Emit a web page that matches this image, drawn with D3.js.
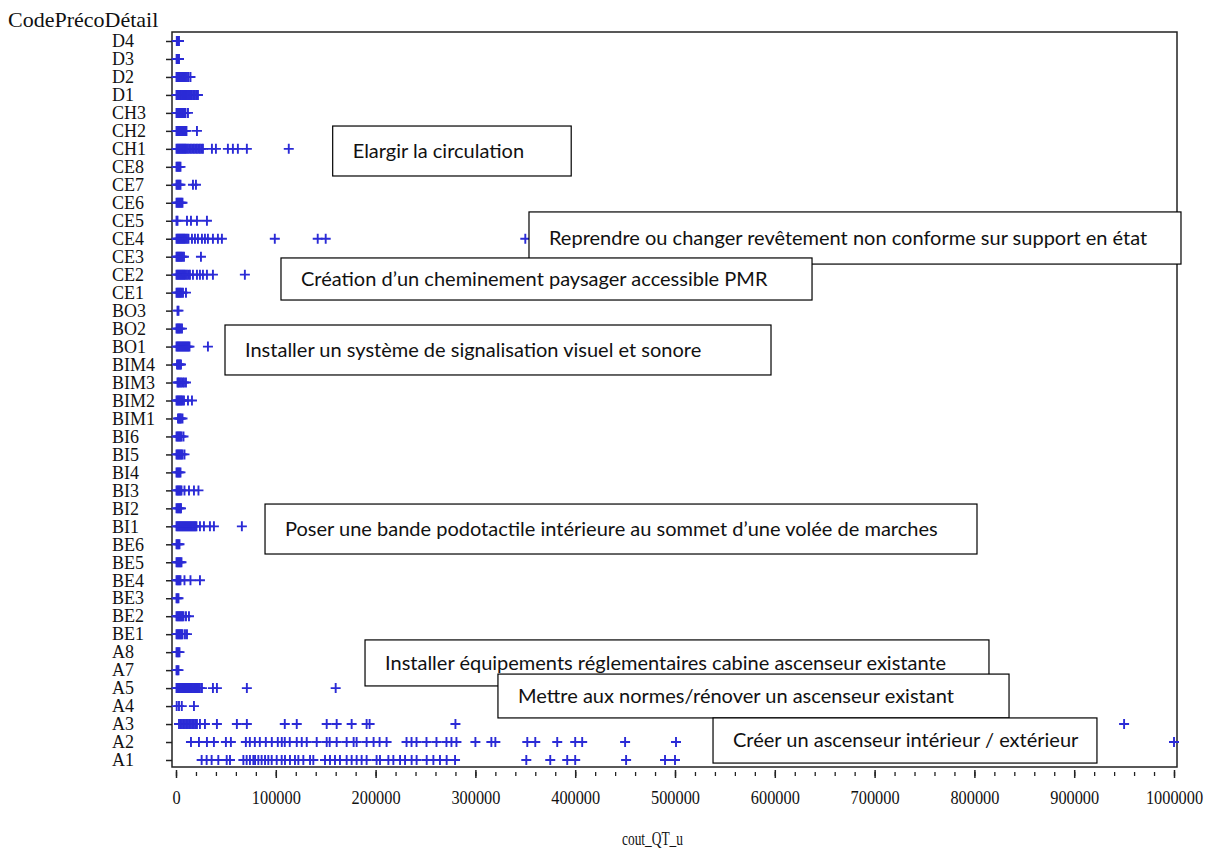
<!DOCTYPE html>
<html>
<head>
<meta charset="utf-8">
<script src="https://cdn.jsdelivr.net/npm/d3@7"></script>
<style>
  body { margin: 0; background: #fff; }
  svg { display: block; }
</style>
</head>
<body>
<div id="chart"></div>
<script>
"use strict";

// Codes shown on the vertical axis, top to bottom
const categories = [
  "D4", "D3", "D2", "D1", "CH3", "CH2", "CH1", "CE8", "CE7", "CE6", "CE5",
  "CE4", "CE3", "CE2", "CE1", "BO3", "BO2", "BO1", "BIM4", "BIM3", "BIM2",
  "BIM1", "BI6", "BI5", "BI4", "BI3", "BI2", "BI1", "BE6", "BE5", "BE4",
  "BE3", "BE2", "BE1", "A8", "A7", "A5", "A4", "A3", "A2", "A1"
];

// Unit costs (cout_QT_u), one list per code
const costD4 = [800, 1500, 2200, 3000];
const costD3 = [600, 1400, 2500, 3000];
const costD2 = [500, 1500, 2500, 3500, 4500, 5500, 6500, 7500, 8500, 9500, 11000, 12500, 14500];
const costD1 = [500, 1200, 2000, 2800, 3500, 4200, 5000, 5800, 6500, 7300, 8000, 9000, 10000,
  11000, 12000, 13000, 14000, 15000, 16000, 17500, 19000, 20500, 22000];
const costCH3 = [500, 1500, 2500, 3500, 4500, 5500, 6500, 7500, 8500, 9500, 12000];
const costCH2 = [500, 1500, 2500, 3500, 4500, 5500, 6500, 7500, 8500, 9500, 10500, 21000];
const costCH1 = [500, 1500, 2500, 3500, 4500, 5500, 6500, 7500, 8500, 9500, 10500, 12000, 13500,
  15000, 16500, 18000, 19500, 21000, 22500, 24000, 25500, 27000, 36000, 40000, 52000, 57000,
  62000, 71000, 113000];
const costCE8 = [500, 1500, 2500, 3500, 4500];
const costCE7 = [500, 1500, 2500, 3500, 4500, 17000, 20000];
const costCE6 = [500, 1500, 2500, 3500, 4500, 5500, 6500];
const costCE5 = [500, 1500, 11000, 15000, 21000, 31000];
const costCE4 = [500, 1500, 2500, 3500, 4500, 5500, 6500, 7500, 8500, 9500, 11000, 12500, 16000,
  19000, 22000, 26000, 29000, 32000, 37000, 42000, 46000, 99000, 142000, 150000, 350000];
const costCE3 = [500, 1500, 2500, 3500, 4500, 5500, 6500, 8000, 25000];
const costCE2 = [500, 1500, 2500, 3500, 4500, 5500, 6500, 7500, 8500, 9500, 11000, 12500, 14000,
  17000, 21000, 24000, 27000, 31000, 37000, 69000];
const costCE1 = [500, 1500, 2500, 3500, 4500, 5500, 7000, 10000];
const costBO3 = [1500, 2500];
const costBO2 = [500, 1500, 2500, 3500, 4500, 6000];
const costBO1 = [500, 1500, 2500, 3500, 4500, 5500, 6500, 7500, 8500, 9500, 10500, 11500, 12500,
  13500, 32000];
const costBIM4 = [1000, 2000, 3000, 4000, 5000];
const costBIM3 = [1500, 2500, 3500, 5000, 6500, 8000, 10000];
const costBIM2 = [500, 1500, 2500, 3500, 4500, 5500, 6500, 8000, 12000, 16000];
const costBIM1 = [2000, 3000, 4000, 5000, 6500];
const costBI6 = [500, 1500, 2500, 3500, 4500, 5500, 7500];
const costBI5 = [500, 1500, 2500, 3500, 4500, 5500, 6500, 8500];
const costBI4 = [500, 1500, 2500, 3500, 4500];
const costBI3 = [500, 1500, 2500, 3500, 4500, 5500, 8500, 13000, 18000, 22500];
const costBI2 = [500, 1500, 2500, 3500, 4500, 5000];
const costBI1 = [500, 1500, 2500, 3500, 4500, 5500, 6500, 7500, 8500, 9500, 10500, 11500, 12500,
  13500, 14500, 15500, 16500, 17500, 18500, 19500, 20500, 24000, 28000, 34000, 38000, 66000];
const costBE6 = [500, 1500, 2500, 3500];
const costBE5 = [500, 1500, 2500, 3500, 4500, 5500];
const costBE4 = [500, 1500, 2500, 3500, 4500, 8500, 14500, 24000];
const costBE3 = [500, 1500, 2500];
const costBE2 = [500, 1500, 2500, 3500, 4500, 5500, 6500, 7500, 10000, 13000];
const costBE1 = [500, 1500, 2500, 3500, 4500, 5500, 6500, 9000, 11000];
const costA8 = [500, 1500, 2500, 3500];
const costA7 = [500, 1500, 2500];
const costA5 = [500, 1500, 2500, 3500, 4500, 5500, 6500, 7500, 8500, 9500, 10500, 11500, 12500,
  13500, 14500, 15500, 16500, 17500, 18500, 19500, 20500, 21500, 22500, 24000, 26000, 37000,
  41000, 71000, 160000];
const costA4 = [700, 3000, 5800, 18000];
const costA3 = [3000, 4500, 6000, 7500, 9000, 10500, 12000, 13500, 15000, 16500, 18000, 19500,
  21000, 24000, 29000, 41000, 61000, 71000, 109000, 121000, 151000, 161000, 176000, 191000,
  194000, 280000, 950000];
const costA2 = [15000, 23000, 31000, 38000, 50000, 55000, 70000, 74000, 79000, 84000, 90000, 96000,
  102000, 106000, 109000, 114000, 121000, 126000, 131000, 141000, 151000, 154000, 161000, 171000,
  178000, 181000, 191000, 198000, 204000, 211000, 231000, 236000, 241000, 251000, 261000, 271000,
  276000, 281000, 300000, 316000, 320000, 352000, 360000, 382000, 400000, 407000, 450000, 501000,
  1000000];
const costA1 = [25700, 30700, 35700, 42400, 50800, 54100, 67500, 70800, 74100, 77500, 79200, 82500,
  85800, 89200, 92500, 95900, 100900, 105900, 109200, 114200, 119200, 122600, 127600, 134300,
  137600, 149300, 154300, 159300, 164300, 171000, 176000, 181000, 186000, 191000, 201000, 204400,
  212800, 217800, 224500, 229500, 236100, 241100, 251200, 257900, 264500, 271200, 279600, 351000,
  375000, 392000, 400000, 451000, 490000, 500000];

// Same order as the categories
const costLists = [
  costD4, costD3, costD2, costD1, costCH3, costCH2, costCH1, costCE8, costCE7, costCE6, costCE5,
  costCE4, costCE3, costCE2, costCE1, costBO3, costBO2, costBO1, costBIM4, costBIM3, costBIM2,
  costBIM1, costBI6, costBI5, costBI4, costBI3, costBI2, costBI1, costBE6, costBE5, costBE4,
  costBE3, costBE2, costBE1, costA8, costA7, costA5, costA4, costA3, costA2, costA1
];

// X axis tick values
const majorTicks = [0, 100000, 200000, 300000, 400000, 500000, 600000, 700000, 800000, 900000, 1000000];
const minorTicks = d3.range(0, 1000001, 20000);

// Text of the annotation boxes (drawn in this order, later ones on top)
const notes = [
  "Elargir la circulation",
  "Reprendre ou changer revêtement non conforme sur support en état",
  "Création d\u2019un cheminement paysager accessible PMR",
  "Installer un système de signalisation visuel et sonore",
  "Poser une bande podotactile intérieure au sommet d\u2019une volée de marches",
  "Installer équipements réglementaires cabine ascenseur existante",
  "Mettre aux normes/rénover un ascenseur existant",
  "Créer un ascenseur intérieur / extérieur"
];

// Flatten into points
const points = [];
categories.forEach((code, i) => {
  costLists[i].forEach(v => points.push({ code: code, cost: v }));
});

// Layout
const width = 1212;
const height = 852;
const frame = { left: 172, right: 1177, top: 32, bottom: 767 };
const markColor = "#2b2bd6";
const serif = "'Liberation Serif', 'Times New Roman', serif";

const svg = d3.select("#chart")
  .append("svg")
  .attr("width", width)
  .attr("height", height);

// Scales
const x = d3.scaleLinear().domain([0, 1000000]).range([176, 1174]);
const y = d3.scalePoint().domain(categories).range([41, 760]);

// Plot frame
svg.append("rect")
  .attr("x", frame.left)
  .attr("y", frame.top)
  .attr("width", frame.right - frame.left)
  .attr("height", frame.bottom - frame.top)
  .attr("fill", "none")
  .attr("stroke", "#222")
  .attr("stroke-width", 1.5);

// Y axis (labels left aligned, as in the original output)
const yAxis = svg.append("g")
  .attr("transform", `translate(${frame.left},0)`)
  .call(d3.axisLeft(y).tickSize(6).tickSizeOuter(0));
yAxis.select(".domain").remove();
yAxis.selectAll(".tick line").attr("stroke", "#222").attr("stroke-width", 1.5);
yAxis.selectAll(".tick text")
  .attr("x", 112 - frame.left)
  .attr("text-anchor", "start")
  .attr("fill", "#111")
  .style("font-family", serif)
  .style("font-size", "18px");

// Minor x ticks
const xMinor = svg.append("g")
  .attr("transform", `translate(0,${frame.bottom + 5})`)
  .call(d3.axisBottom(x).tickValues(minorTicks).tickSize(4).tickFormat(""));
xMinor.select(".domain").remove();
xMinor.selectAll(".tick line").attr("stroke", "#222").attr("stroke-width", 1.3);

// Major x ticks with labels
const xAxis = svg.append("g")
  .attr("transform", `translate(0,${frame.bottom + 3})`)
  .call(d3.axisBottom(x).tickValues(majorTicks).tickSize(8).tickPadding(13).tickFormat(d3.format("d")));
xAxis.select(".domain").remove();
xAxis.selectAll(".tick line").attr("stroke", "#222").attr("stroke-width", 1.5);
xAxis.selectAll(".tick text")
  .attr("fill", "#111")
  .attr("transform", "scale(0.86,1)")
  .style("font-family", serif)
  .style("font-size", "19px");

// Axis titles
svg.append("text")
  .attr("x", 8)
  .attr("y", 27)
  .attr("fill", "#111")
  .style("font-family", serif)
  .style("font-size", "22px")
  .text("CodePrécoDétail");

svg.append("text")
  .attr("x", 622)
  .attr("y", 845)
  .attr("textLength", 61)
  .attr("lengthAdjust", "spacingAndGlyphs")
  .attr("fill", "#111")
  .style("font-family", serif)
  .style("font-size", "19px")
  .text("cout_QT_u");

// Plus markers
svg.append("g")
  .selectAll("path")
  .data(points)
  .join("path")
  .attr("transform", d => `translate(${x(d.cost)},${y(d.code)})`)
  .attr("d", "M-5,0H5M0,-5V5")
  .attr("fill", "none")
  .attr("stroke", markColor)
  .attr("stroke-width", 1.9);

// Annotation boxes: x edges in cost units, y edges in row steps from the first row
const noteBoxes = [
  { x0: 157000, x1: 396000, r0: 4.73, r1: 7.51 },
  { x0: 353700, x1: 1007000, r0: 9.51, r1: 12.41 },
  { x0: 105200, x1: 637300, r0: 12.07, r1: 14.41 },
  { x0: 49100, x1: 596200, r0: 15.8, r1: 18.58 },
  { x0: 89200, x1: 802600, r0: 25.76, r1: 28.54 },
  { x0: 189400, x1: 814600, r0: 33.32, r1: 35.88 },
  { x0: 322600, x1: 834700, r0: 35.22, r1: 37.66 },
  { x0: 538100, x1: 922800, r0: 37.66, r1: 40.17 }
];
const y0 = y(categories[0]);
const step = y.step();

const noteGroups = svg.append("g")
  .selectAll("g")
  .data(notes)
  .join("g");

noteGroups.append("rect")
  .attr("x", (d, i) => x(noteBoxes[i].x0))
  .attr("y", (d, i) => y0 + noteBoxes[i].r0 * step)
  .attr("width", (d, i) => x(noteBoxes[i].x1) - x(noteBoxes[i].x0))
  .attr("height", (d, i) => (noteBoxes[i].r1 - noteBoxes[i].r0) * step)
  .attr("fill", "#fff")
  .attr("stroke", "#000")
  .attr("stroke-width", 1.2);

noteGroups.append("text")
  .attr("x", (d, i) => x(noteBoxes[i].x0) + 20)
  .attr("y", (d, i) => y0 + (noteBoxes[i].r0 + noteBoxes[i].r1) / 2 * step)
  .attr("dy", "0.35em")
  .attr("fill", "#111")
  .style("font-family", "Lato, 'Noto Sans', sans-serif")
  .style("font-size", "20px")
  .text(d => d);
</script>
</body>
</html>
